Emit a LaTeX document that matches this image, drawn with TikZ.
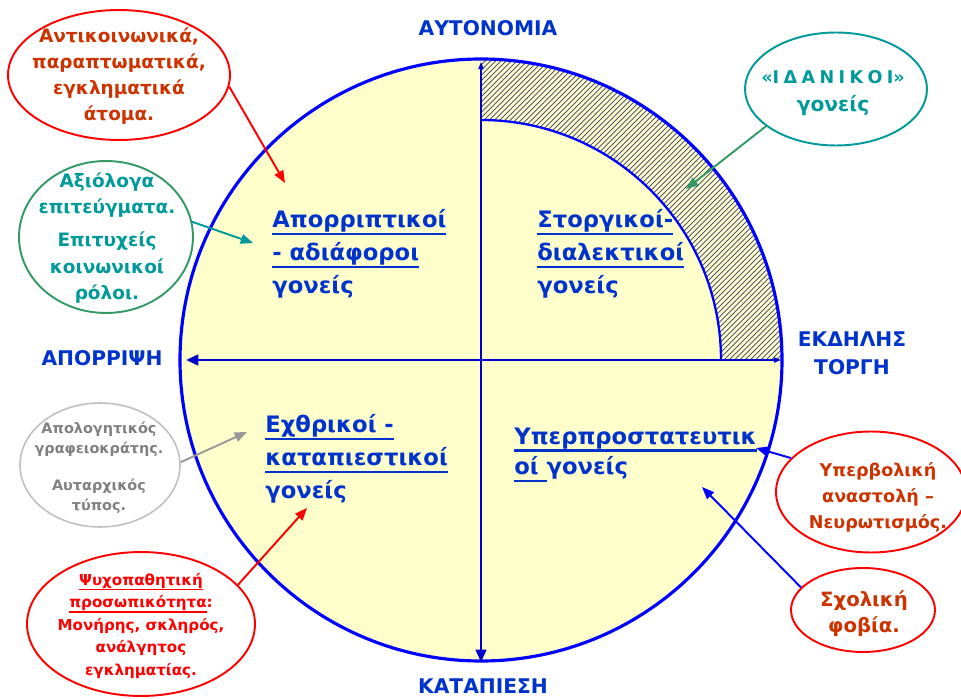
\documentclass[tikz,border=0pt]{standalone}
\usepackage{fontspec}
\setmainfont{DejaVu Sans}
\usetikzlibrary{shapes.geometric,arrows.meta,patterns}

\definecolor{qblue}{HTML}{0033CC}
\definecolor{ringblue}{HTML}{0000FF}
\definecolor{paleyellow}{HTML}{FFFFCC}
\definecolor{hatchgray}{HTML}{3A3A6A}
\definecolor{rust}{HTML}{CC3300}
\definecolor{tealtext}{HTML}{009999}
\definecolor{seagreen}{HTML}{339966}
\definecolor{midgray}{HTML}{808080}
\definecolor{palegray}{HTML}{C0C0C0}

\newsavebox\ulbox
\newcommand{\undl}[1]{\sbox\ulbox{#1}\rlap{\rule[-0.33em]{\wd\ulbox}{0.11em}}\usebox\ulbox}

\begin{document}
\begin{tikzpicture}[x=0.02cm, y=-0.02cm,
  callout/.style={ellipse, draw, line width=1.1pt, inner sep=0pt},
  calltext/.style={align=center, inner sep=0pt},
  quadtext/.style={text=qblue, align=left, anchor=west, inner sep=0pt, font=\bfseries\fontsize{12.9}{18.7}\selectfont},
  axislabel/.style={text=qblue, align=center, font=\bfseries\fontsize{11.5}{15.9}\selectfont},
  pointer/.style={line width=1.1pt, -{Triangle[length=7pt, width=5.5pt]}},
  axthin/.style={ringblue!80!black, line width=0.6pt, -{Triangle[length=4pt, width=3pt]}},
  axthick/.style={ringblue!80!black, line width=1.6pt, -{Triangle[length=7pt, width=6pt]}}]

\useasboundingbox (0,0) rectangle (961,699);

% Circle and hatched ring
\coordinate (ctr) at (481,360);
\fill[paleyellow] (ctr) circle (301);
\fill[pattern=north east lines, pattern color=hatchgray] (481,59) arc[start angle=-90, end angle=0, radius=301] -- (721,360) arc[start angle=0, end angle=-90, radius=240] -- cycle;
\draw[ringblue, line width=1.3pt] (721,360) arc[start angle=0, end angle=-90, radius=240];

% Axes
\coordinate (topend) at (481,62);
\coordinate (rightend) at (781,360);
\coordinate (leftend) at (186,360);
\coordinate (botend) at (481,662);
\draw[axthin] (ctr) -- (topend);
\draw[axthin] (ctr) -- (rightend);
\draw[axthick] (ctr) -- (leftend);
\draw[axthick] (ctr) -- (botend);
\draw[ringblue, line width=1.8pt] (ctr) circle (301);

% Axis labels
\node[axislabel] (auton) at (488,28) {ΑΥΤΟΝΟΜΙΑ};
\node[axislabel] (reject) at (102,358) {ΑΠΟΡΡΙΨΗ};
\node[axislabel] (express) at (852,353) {ΕΚΔΗΛΗΣ\\ΤΟΡΓΗ};
\node[axislabel] (oppress) at (483,686) {ΚΑΤΑΠΙΕΣΗ};

% Quadrant texts
\node[quadtext] (rejecting) at (272,254) {\undl{Απορριπτικοί}\\\undl{- αδιάφοροι}\\γονείς};
\node[quadtext] (loving) at (537,254) {\undl{Στοργικοί-}\\\undl{διαλεκτικοί}\\γονείς};
\node[quadtext] (hostile) at (265,459) {\undl{Εχθρικοί -}\\\undl{καταπιεστικοί}\\γονείς};
\node[quadtext, font=\bfseries\fontsize{12.9}{17.6}\selectfont] (overprot) at (514,455) {\undl{Υπερπροστατευτικ}\\\undl{οί\ }γονείς};

% Callouts
\node[callout, draw=red, minimum width=4.44cm, minimum height=2.6cm] (antisoc) at (119,75) {};
\node[calltext, text=rust, font=\bfseries\fontsize{10.5}{14.9}\selectfont] (antisoctxt) at (119,76) {Αντικοινωνικά,\\παραπτωματικά,\\εγκληματικά\\άτομα.};

\node[callout, draw=seagreen, minimum width=3.48cm, minimum height=3.04cm] (achieve) at (106,237) {};
\node[calltext, text=tealtext, font=\bfseries\fontsize{10.5}{15}\selectfont] (achievetxt) at (107,238) {Αξιόλογα\\επιτεύγματα.\\[4pt]Επιτυχείς\\κοινωνικοί\\ρόλοι.};

\node[callout, draw=palegray, line width=0.9pt, minimum width=3.2cm, minimum height=2.48cm] (apolog) at (100,465) {};
\node[calltext, text=midgray, font=\bfseries\fontsize{8.2}{11.3}\selectfont] (apologtxt) at (99,468) {Απολογητικός\\γραφειοκράτης.\\[10pt]Αυταρχικός\\τύπος.};

\node[callout, draw=red, minimum width=4.56cm, minimum height=2.88cm] (psycho) at (141,624) {};
\node[calltext, text=red, font=\bfseries\fontsize{8.6}{12.8}\selectfont] (psychotxt) at (141,626) {\undl{Ψυχοπαθητική}\\\undl{προσωπικότητα}:\\Μονήρης, σκληρός,\\ανάλγητος\\εγκληματίας.};

\node[callout, draw=tealtext, minimum width=3.64cm, minimum height=2.26cm] (ideal) at (836,89) {};
\node[calltext, text=tealtext, font=\bfseries\fontsize{10}{16.4}\selectfont] (idealtxt) at (833,93) {«Ι\hspace{0.25em}Δ\hspace{0.25em}Α\hspace{0.25em}Ν\hspace{0.25em}Ι\hspace{0.25em}Κ\hspace{0.25em}Ο\hspace{0.25em}Ι»\\{\fontsize{11.5}{16.4}\selectfont γονείς}};

\node[callout, draw=red, minimum width=3.8cm, minimum height=2.42cm] (hyper) at (871,492) {};
\node[calltext, text=rust, font=\bfseries\fontsize{10}{14.7}\selectfont] (hypertxt) at (878,497) {Υπερβολική\\αναστολή –\\Νευρωτισμός.};

\node[callout, draw=red, minimum width=2.88cm, minimum height=1.68cm] (school) at (863,610) {};
\node[calltext, text=rust, font=\bfseries\fontsize{11.2}{14.7}\selectfont] (schooltxt) at (864,614) {Σχολική\\φοβία.};

% Pointers
\coordinate (antisoctip) at (285,183);
\coordinate (achievetip) at (253,243);
\coordinate (apologtip) at (247,432);
\coordinate (psychotip) at (307,508);
\coordinate (idealtip) at (686,189);
\coordinate (hypertip) at (756,448);
\coordinate (schooltip) at (702,487);
\draw[pointer, red] (antisoc.-6) -- (antisoctip);
\draw[pointer, tealtext] (achieve.10) -- (achievetip);
\draw[pointer, black!40] (apolog.2) -- (apologtip);
\draw[pointer, red] (psycho.22) -- (psychotip);
\draw[pointer, seagreen] (ideal.208) -- (idealtip);
\draw[pointer, ringblue] (hyper.157) -- (hypertip);
\draw[pointer, ringblue] (school.160) -- (schooltip);

\end{tikzpicture}
\end{document}
